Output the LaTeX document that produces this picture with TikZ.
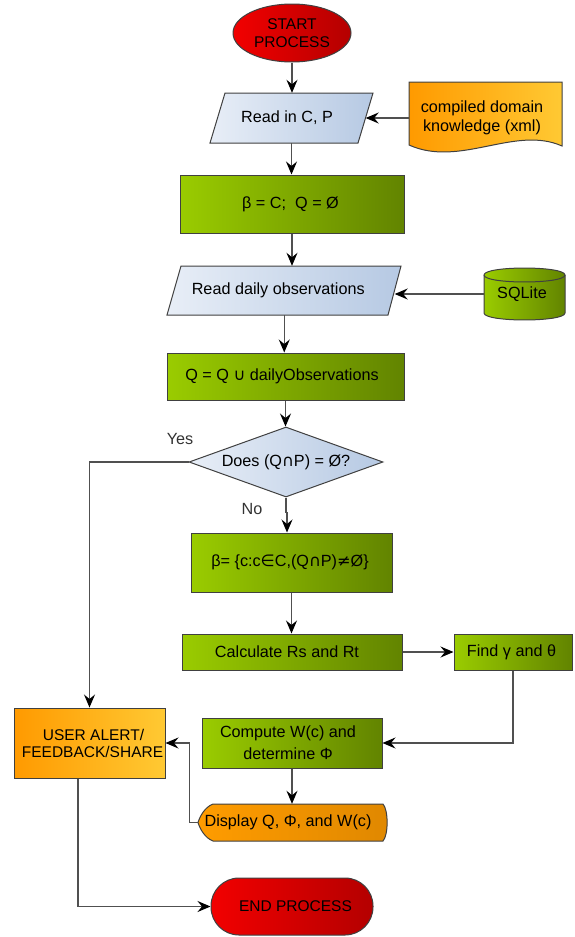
\documentclass[tikz,border=0pt]{standalone}
\usepackage{fontspec}
\setmainfont{Liberation Sans}
\newfontfamily\symf{DejaVu Sans}
\usetikzlibrary{shapes.geometric,arrows.meta}
\definecolor{redL}{HTML}{F20000}
\definecolor{redR}{HTML}{B40000}
\definecolor{bluL}{HTML}{E8EEF7}
\definecolor{bluR}{HTML}{B6C9E3}
\definecolor{grnL}{HTML}{9ACC00}
\definecolor{grnR}{HTML}{628400}
\definecolor{orgL}{HTML}{FF9A00}
\definecolor{orgR}{HTML}{FFC933}
\definecolor{dspL}{HTML}{FF9C00}
\definecolor{dspR}{HTML}{E08800}
\definecolor{lineC}{HTML}{505050}
\newcommand{\shl}[2]{\hspace*{#1pt}#2}
\begin{document}
\begin{tikzpicture}[x=1pt,y=-1pt,
  font=\fontsize{16.2}{19}\selectfont,
  capsfont/.style={font=\fontsize{15.5}{18.5}\selectfont},
  outl/.style={draw=black!75, line width=1pt},
  redfill/.style={left color=redL, right color=redR},
  blufill/.style={left color=bluL, right color=bluR},
  grnfill/.style={left color=grnL, right color=grnR},
  orgfill/.style={left color=orgL, right color=orgR},
  dspfill/.style={left color=dspL, right color=dspR},
  gbox/.style={rectangle, outl, grnfill, inner sep=0pt, align=center},
  anch/.style={rectangle, inner sep=0pt, align=center},
  conn/.style={draw=lineC, line width=1.1pt},
  arr/.style={conn, -{Stealth[length=13pt,width=11pt,inset=4.5pt,color=black]}},
  lbl/.style={text=black!80, inner sep=0pt}
]
\useasboundingbox (0,0) rectangle (574,937);

% start
\node[ellipse, outl, redfill, capsfont, minimum width=118pt, minimum height=58pt, inner sep=0pt, align=center] (start) at (292,33) {START\\PROCESS};

% read in C, P
\path[outl, blufill] (225,93) -- (373,93) -- (358,143) -- (210,143) -- cycle;
\node[anch, minimum width=148pt, minimum height=50pt] (read) at (291.5,118) {\shl{-9}{Read in C, P}};

% document
\path[outl, orgfill] (409,82) -- (562,82) -- (562,146) .. controls (515,125) and (460,168) .. (409,145) -- cycle;
\node[anch, minimum width=153pt, minimum height=72pt] (doc) at (485.5,118) {\shl{-7}{compiled domain}\\\shl{-7}{knowledge (xml)}};

% beta = C
\node[gbox, minimum width=224pt, minimum height=58pt] (b1) at (292,204) {\shl{-3}{β = C;\ \ Q = Ø}};

% read daily observations
\path[outl, blufill] (181,266) -- (401,266) -- (388,315) -- (167,315) -- cycle;
\node[anch, minimum width=220.5pt, minimum height=49pt] (rdo) at (284.25,290.5) {\shl{-12}{Read daily observations}};

% SQLite cylinder
\path[outl, grnfill] (484,275) -- (484,313) .. controls (484,322.3) and (565,322.3) .. (565,313) -- (565,275) .. controls (565,265.7) and (484,265.7) .. (484,275) -- cycle;
\draw[outl] (484,275) .. controls (484,284.3) and (565,284.3) .. (565,275);
\node[anch, minimum width=81pt, minimum height=52pt] (sql) at (524.5,294) {\raisebox{-2pt}{\shl{-5}{SQLite}}};

% Q = Q u daily
\node[gbox, minimum width=237pt, minimum height=47pt] (qb) at (285.5,376.5) {\shl{-7}{Q = Q {\symf ∪} dailyObservations}};

% decision
\node[diamond, outl, blufill, aspect=2.77, minimum width=194pt, minimum height=70pt, inner sep=0pt] (dia) at (286,462) {Does (Q{\symf ∩}P) = Ø?};
\node[lbl] (yes) at (180,439) {Yes};
\node[lbl] (no) at (252,509) {No};

% beta = {...}
\node[gbox, minimum width=201pt, minimum height=59pt] (b2) at (291.5,562.5) {\shl{-3}{β= \{c:c{\symf ∈}C,(Q{\symf ∩}P){\symf ≠}Ø\}}};

% calculate
\node[gbox, minimum width=220pt, minimum height=36pt] (calc) at (292,652) {\shl{-10}{Calculate Rs and Rt}};
\node[gbox, minimum width=118pt, minimum height=36pt] (find) at (513,652) {\shl{-3}{Find γ and θ}};

% compute
\node[gbox, minimum width=180pt, minimum height=50pt, font=\fontsize{16.2}{22}\selectfont] (comp) at (292,743) {\shl{-8}{Compute W(c) and}\\\shl{-8}{determine Φ}};

% display
\path[outl, dspfill] (213,804) -- (383,804) .. controls (388.5,810) and (388.5,835) .. (383,841) -- (213,841) .. controls (205,838) and (200,829) .. (198,822.5) .. controls (200,816) and (205,807) .. (213,804) -- cycle;
\node[anch, minimum width=189pt, minimum height=37pt] (disp) at (292.5,822.5) {\shl{-9}{Display Q, Φ, and W(c)}};

% user alert
\node[rectangle, outl, orgfill, minimum width=151pt, minimum height=70pt, inner sep=0pt, align=center, font=\fontsize{15.5}{17}\selectfont] (ua) at (89.5,743) {\shl{8}{USER ALERT/}\\\shl{6}{FEEDBACK/SHARE}};

% end
\node[rectangle, rounded corners=28pt, outl, redfill, capsfont, minimum width=162pt, minimum height=57pt, inner sep=0pt] (end) at (292,906.5) {\shl{7}{END PROCESS}};

% connectors
\draw[arr] (start.south) -- (start.south |- read.north);
\draw[arr] (doc.west) -- (read.east);
\draw[arr] (read.south) -- (read.south |- b1.north);
\draw[arr] (b1.south) -- (b1.south |- rdo.north);
\draw[arr] (sql.west) -- (sql.west -| rdo.east);
\draw[arr] (rdo.south) -- (rdo.south |- qb.north);
\draw[arr] (qb.south) -- (qb.south |- dia.north);
\draw[arr] (dia.west) -| (ua.north);
\draw[arr] (dia.south) -- ++(0,15) -| ([xshift=-4.5pt]b2.north);
\draw[arr] (b2.south) -- (b2.south |- calc.north);
\draw[arr] (calc.east) -- (find.west);
\draw[arr] (find.south) |- (comp.east);
\draw[arr] (comp.south) -- (comp.south |- disp.north);
\draw[arr] (disp.west) -- ++(-8,0) |- (ua.east);
\draw[arr] ([xshift=-11.5pt]ua.south) |- (end.west);
\end{tikzpicture}
\end{document}
